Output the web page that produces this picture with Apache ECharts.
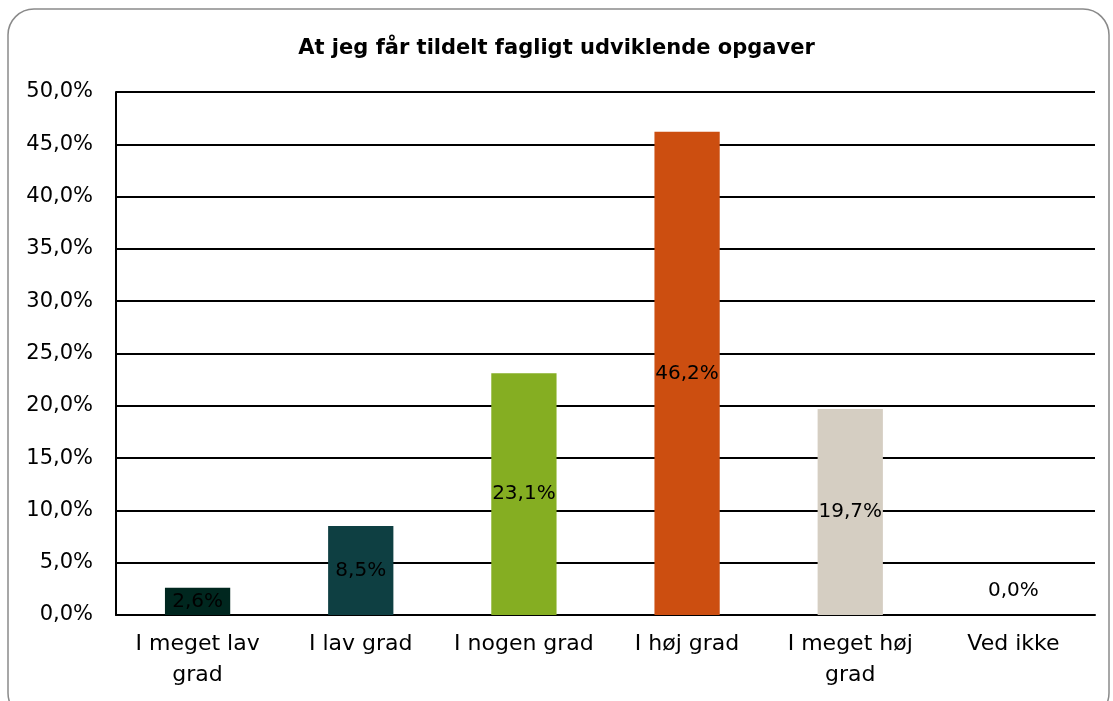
<!DOCTYPE html>
<html>
<head>
<meta charset="UTF-8">
<title>At jeg får tildelt fagligt udviklende opgaver</title>
<script src="https://cdn.jsdelivr.net/npm/echarts@6/dist/echarts.min.js"></script>
<style>
  html, body { margin: 0; padding: 0; background: #fff; }
  #main { width: 1113px; height: 701px; }
</style>
</head>
<body>
<div id="main"></div>
<script>
var categories = ['I meget lav\ngrad', 'I lav grad', 'I nogen grad', 'I høj grad', 'I meget høj\ngrad', 'Ved ikke'];
var values = [2.6, 8.5, 23.1, 46.2, 19.7, 0.0];
var barColors = ['#00271f', '#0e3f42', '#85ae22', '#cc4e10', '#d5cec2', '#888888'];

var font = '"DejaVu Sans", Verdana, sans-serif';

function pct(v) {
    return v.toFixed(1).replace('.', ',') + '%';
}

var chart = echarts.init(document.getElementById('main'));

var option = {
    animation: false,
    title: {
        text: 'At jeg får tildelt fagligt udviklende opgaver',
        left: 'center',
        top: 33,
        textStyle: { fontFamily: font, fontSize: 21, fontWeight: 'bold', color: '#000' }
    },
    graphic: [{
        type: 'rect',
        shape: { x: 8, y: 9, width: 1101, height: 710, r: 26 },
        style: { fill: 'none', stroke: '#8a8a8a', lineWidth: 1.5 },
        silent: true
    }],
    grid: { left: 116, right: 18, top: 92, bottom: 86 },
    xAxis: {
        type: 'category',
        data: categories,
        axisLine: { lineStyle: { color: '#000', width: 2 } },
        axisTick: { show: false },
        axisLabel: { interval: 0, fontFamily: font, fontSize: 22, color: '#000', margin: 14, lineHeight: 31 }
    },
    yAxis: {
        type: 'value',
        min: 0,
        max: 50,
        interval: 5,
        axisLine: { show: true, lineStyle: { color: '#000', width: 2 } },
        axisTick: { show: false },
        splitLine: { lineStyle: { color: '#000', width: 2 } },
        axisLabel: {
            fontFamily: font, fontSize: 21, color: '#000', margin: 23,
            formatter: function (v) { return pct(v); }
        }
    },
    series: [{
        type: 'bar',
        barWidth: '40%',
        data: values.map(function (v, i) {
            var d = { value: v, itemStyle: { color: barColors[i] } };
            if (v === 0) { d.label = { position: 'top', distance: 14 }; }
            return d;
        }),
        label: {
            show: true,
            position: 'inside',
            fontFamily: font,
            fontSize: 20,
            color: '#000',
            formatter: function (p) { return pct(p.value); }
        }
    }]
};

chart.setOption(option);
</script>
</body>
</html>
